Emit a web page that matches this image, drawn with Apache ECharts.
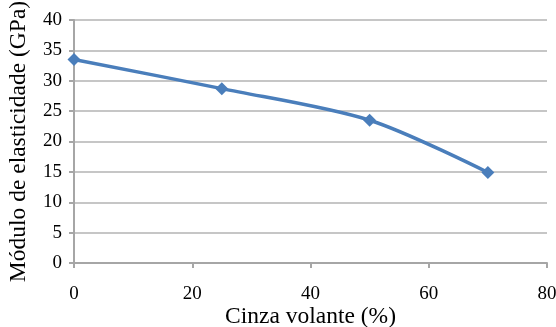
<!DOCTYPE html>
<html>
<head>
<meta charset="utf-8">
<script src="https://cdn.jsdelivr.net/npm/echarts@6/dist/echarts.min.js"></script>
<style>
html,body{margin:0;padding:0;background:#fff;}
#chart{width:556px;height:327px;}
</style>
</head>
<body>
<div id="chart"></div>
<script>
// Fly ash content (%) vs. modulus of elasticity (GPa)
const cinzaVolante = [0, 25, 50, 70];
const moduloElasticidade = [33.5, 28.7, 23.5, 14.9];
const xTicks = [0, 20, 40, 60, 80];
const yTicks = [0, 5, 10, 15, 20, 25, 30, 35, 40];

const font = 'Liberation Serif, Times New Roman, serif';
const axisGray = '#a6a6a6';

const chart = echarts.init(document.getElementById('chart'));
chart.setOption({
  animation: false,
  grid: { left: 74, right: 9, top: 20, bottom: 64, containLabel: false, outerBoundsMode: 'none' },
  xAxis: {
    type: 'value',
    min: xTicks[0], max: xTicks[xTicks.length - 1], interval: 20,
    name: 'Cinza volante (%)',
    nameLocation: 'middle', nameGap: 42, nameMoveOverlap: false,
    nameTextStyle: { fontFamily: font, fontSize: 23.5, color: '#000' },
    axisLine: { lineStyle: { color: axisGray, width: 2 } },
    axisTick: { show: true, length: 5, lineStyle: { color: axisGray, width: 2 } },
    axisLabel: { fontFamily: font, fontSize: 19, color: '#000', margin: 22 },
    splitLine: { show: false }
  },
  yAxis: {
    type: 'value',
    min: yTicks[0], max: yTicks[yTicks.length - 1], interval: 5,
    name: 'Módulo de elasticidade (GPa)',
    nameLocation: 'middle', nameGap: 43, nameMoveOverlap: false,
    nameTextStyle: { fontFamily: font, fontSize: 23.5, color: '#000' },
    axisLine: { show: true, lineStyle: { color: axisGray, width: 2 } },
    axisTick: { show: true, length: 5, lineStyle: { color: axisGray, width: 2 } },
    axisLabel: { fontFamily: font, fontSize: 19, color: '#000', margin: 12 },
    splitLine: { show: true, lineStyle: { color: '#b3b3b3', width: 1.5 } }
  },
  series: [{
    type: 'line',
    data: cinzaVolante.map((x, i) => [x, moduloElasticidade[i]]),
    smooth: 0.3,
    symbol: 'diamond',
    symbolSize: 13,
    lineStyle: { color: '#4a7ebb', width: 3.5 },
    itemStyle: { color: '#4a7ebb' }
  }]
});
</script>
</body>
</html>
